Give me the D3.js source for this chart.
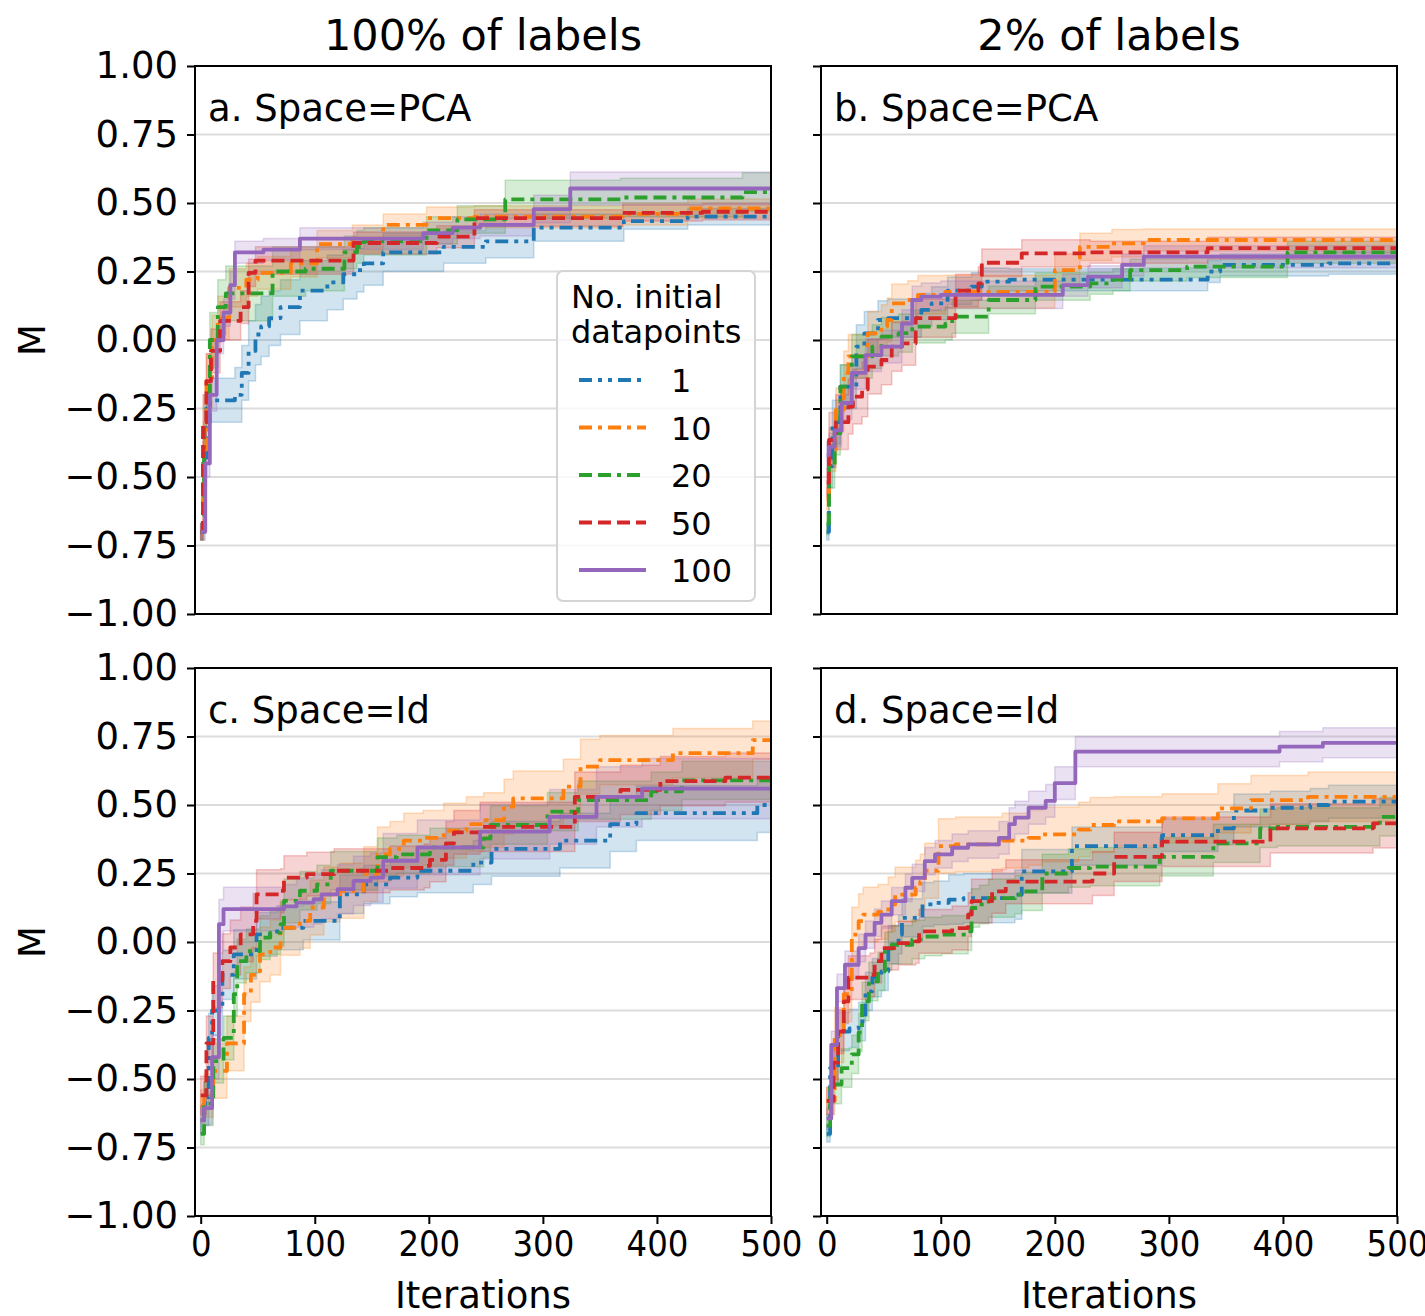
<!DOCTYPE html>
<html>
<head>
<meta charset="utf-8">
<script src="https://cdn.jsdelivr.net/npm/d3@7"></script>
<style>
  html, body { margin: 0; padding: 0; background: #fff; }
  svg { display: block; }
  text { font-family: "DejaVu Sans", sans-serif; fill: #000; }
</style>
</head>
<body>
<svg id="chart" width="1425" height="1316"></svg>
<script>
// ---------------- DATA ----------------
// series labels (No. initial datapoints)
const seriesNames = ["1", "10", "20", "50", "100"];
const seriesColors = ["#1f77b4", "#ff7f0e", "#2ca02c", "#d62728", "#9467bd"];
const columnTitles = ["100% of labels", "2% of labels"];
const panelLabels = ["a. Space=PCA", "b. Space=PCA", "c. Space=Id", "d. Space=Id"];
const yTicks = [-1, -0.75, -0.5, -0.25, 0, 0.25, 0.5, 0.75, 1];
const xTicks = [0, 100, 200, 300, 400, 500];

// each point: [iteration, mean M, half-width of shaded band]
// Panel a: Space=PCA, 100% of labels
const a_n1 = [[0,-0.70,0.03],[2,-0.45,0.08],[5,-0.25,0.08],[8,-0.22,0.08],[30,-0.20,0.10],[36,-0.12,0.10],[42,-0.04,0.11],[48,0.02,0.11],[53,0.05,0.11],[60,0.08,0.10],[70,0.12,0.10],[87,0.18,0.11],[111,0.21,0.10],[125,0.24,0.09],[137,0.255,0.08],[143,0.28,0.08],[160,0.32,0.07],[213,0.34,0.06],[250,0.36,0.06],[292,0.41,0.05],[371,0.434,0.03],[427,0.45,0.03],[500,0.45,0.03]];
const a_n10 = [[0,-0.70,0.03],[2,-0.40,0.10],[5,-0.15,0.10],[10,0.0,0.09],[15,0.08,0.08],[25,0.19,0.07],[40,0.22,0.06],[50,0.245,0.06],[79,0.28,0.05],[102,0.35,0.05],[133,0.37,0.05],[160,0.42,0.04],[198,0.445,0.04],[240,0.45,0.04],[370,0.46,0.04],[427,0.48,0.035],[500,0.48,0.035]];
const a_n20 = [[0,-0.70,0.03],[3,-0.30,0.10],[8,0.0,0.10],[15,0.12,0.10],[22,0.17,0.10],[63,0.25,0.09],[92,0.26,0.08],[126,0.32,0.06],[137,0.34,0.06],[143,0.36,0.05],[198,0.40,0.05],[225,0.44,0.05],[267,0.513,0.07],[368,0.52,0.07],[475,0.54,0.07],[500,0.54,0.07]];
const a_n50 = [[0,-0.70,0.03],[2,-0.30,0.10],[5,-0.15,0.10],[9,-0.04,0.08],[17,0.07,0.07],[35,0.12,0.06],[42,0.245,0.05],[48,0.29,0.05],[134,0.354,0.04],[207,0.377,0.04],[240,0.445,0.03],[370,0.464,0.03],[440,0.468,0.03],[500,0.468,0.03]];
const a_n100 = [[0,-0.70,0.03],[4,-0.45,0.05],[8,-0.20,0.06],[14,0.0,0.05],[20,0.10,0.05],[26,0.20,0.05],[30,0.32,0.04],[55,0.33,0.04],[87,0.37,0.04],[195,0.39,0.04],[221,0.41,0.04],[245,0.42,0.04],[292,0.478,0.05],[324,0.553,0.06],[500,0.553,0.06]];

// Panel b: Space=PCA, 2% of labels
const b_n1 = [[0,-0.70,0.03],[2,-0.46,0.08],[5,-0.30,0.08],[12,-0.17,0.08],[26,-0.024,0.08],[33,0.024,0.08],[45,0.073,0.07],[54,0.08,0.07],[83,0.11,0.06],[92,0.134,0.06],[106,0.18,0.05],[127,0.195,0.05],[136,0.213,0.05],[160,0.22,0.04],[334,0.25,0.04],[345,0.274,0.04],[440,0.28,0.04],[500,0.28,0.04]];
const b_n10 = [[0,-0.58,0.04],[2,-0.40,0.08],[8,-0.255,0.08],[15,-0.12,0.08],[19,-0.06,0.08],[36,0.024,0.08],[48,0.049,0.08],[53,0.073,0.08],[57,0.134,0.07],[71,0.146,0.07],[80,0.165,0.07],[104,0.176,0.06],[200,0.255,0.06],[222,0.34,0.05],[250,0.353,0.05],[278,0.365,0.04],[500,0.365,0.04]];
const b_n20 = [[0,-0.67,0.04],[2,-0.46,0.08],[7,-0.34,0.08],[12,-0.17,0.08],[22,-0.06,0.08],[40,-0.024,0.08],[48,0.012,0.07],[63,0.025,0.07],[75,0.049,0.06],[104,0.06,0.06],[110,0.085,0.06],[142,0.146,0.05],[183,0.195,0.05],[231,0.207,0.04],[251,0.22,0.04],[266,0.255,0.04],[316,0.268,0.04],[404,0.32,0.04],[500,0.32,0.04]];
const b_n50 = [[0,-0.52,0.05],[2,-0.365,0.10],[8,-0.30,0.10],[19,-0.243,0.10],[23,-0.207,0.10],[31,-0.18,0.10],[36,-0.097,0.10],[48,-0.073,0.09],[57,-0.024,0.09],[66,-0.012,0.08],[78,0.08,0.07],[113,0.18,0.06],[133,0.207,0.06],[136,0.282,0.05],[171,0.316,0.05],[231,0.32,0.04],[334,0.335,0.04],[500,0.335,0.04]];
const b_n100 = [[0,-0.42,0.05],[2,-0.39,0.05],[7,-0.33,0.06],[13,-0.23,0.06],[22,-0.12,0.06],[34,-0.055,0.06],[48,-0.024,0.06],[66,0.06,0.05],[75,0.146,0.05],[83,0.158,0.05],[100,0.165,0.05],[207,0.20,0.04],[229,0.231,0.04],[259,0.274,0.04],[278,0.304,0.04],[500,0.304,0.04]];

// Panel c: Space=Id, 100% of labels
const c_n1 = [[0,-0.65,0.05],[3,-0.59,0.08],[7,-0.35,0.09],[10,-0.25,0.09],[19,-0.12,0.09],[29,-0.045,0.09],[49,0.028,0.08],[67,0.052,0.08],[90,0.077,0.07],[122,0.174,0.07],[143,0.21,0.07],[166,0.235,0.07],[190,0.26,0.08],[239,0.29,0.08],[255,0.34,0.10],[315,0.37,0.10],[359,0.43,0.10],[382,0.47,0.10],[488,0.50,0.10],[500,0.50,0.10]];
const c_n10 = [[0,-0.60,0.06],[3,-0.56,0.08],[11,-0.47,0.10],[23,-0.37,0.10],[38,-0.19,0.10],[44,-0.12,0.10],[52,-0.045,0.10],[61,-0.02,0.10],[70,0.052,0.10],[87,0.077,0.10],[96,0.126,0.10],[108,0.174,0.10],[122,0.187,0.10],[143,0.248,0.10],[155,0.32,0.10],[166,0.34,0.10],[178,0.37,0.10],[195,0.38,0.10],[213,0.406,0.10],[233,0.43,0.10],[248,0.445,0.10],[266,0.494,0.10],[274,0.524,0.10],[318,0.567,0.10],[333,0.64,0.10],[350,0.664,0.09],[414,0.689,0.09],[484,0.737,0.07],[500,0.737,0.07]];
const c_n20 = [[0,-0.70,0.04],[3,-0.59,0.08],[11,-0.435,0.08],[20,-0.35,0.08],[29,-0.19,0.08],[32,-0.07,0.08],[40,-0.033,0.08],[52,0.016,0.08],[61,0.034,0.08],[70,0.065,0.08],[73,0.15,0.08],[87,0.187,0.07],[102,0.21,0.07],[114,0.26,0.07],[155,0.31,0.07],[172,0.32,0.07],[201,0.345,0.07],[248,0.378,0.07],[254,0.427,0.07],[304,0.476,0.07],[331,0.518,0.07],[395,0.55,0.07],[422,0.59,0.07],[500,0.595,0.07]];
const c_n50 = [[0,-0.56,0.07],[5,-0.37,0.10],[11,-0.14,0.10],[19,-0.07,0.10],[26,-0.02,0.10],[35,0.028,0.10],[46,0.077,0.10],[49,0.174,0.09],[70,0.187,0.08],[73,0.235,0.08],[93,0.248,0.08],[117,0.26,0.08],[166,0.27,0.08],[196,0.278,0.08],[201,0.30,0.08],[215,0.36,0.08],[222,0.40,0.08],[245,0.42,0.09],[328,0.53,0.09],[368,0.555,0.09],[403,0.587,0.09],[460,0.60,0.09],[500,0.60,0.09]];
const c_n100 = [[0,-0.65,0.05],[3,-0.606,0.06],[10,-0.42,0.08],[16,0.065,0.09],[20,0.12,0.08],[73,0.13,0.08],[84,0.144,0.09],[99,0.156,0.09],[106,0.174,0.09],[120,0.193,0.09],[134,0.223,0.09],[149,0.235,0.09],[160,0.296,0.10],[190,0.345,0.10],[245,0.403,0.10],[306,0.457,0.10],[347,0.53,0.11],[387,0.56,0.11],[500,0.56,0.11]];

// Panel d: Space=Id, 2% of labels
const d_n1 = [[0,-0.70,0.03],[3,-0.46,0.06],[10,-0.327,0.07],[20,-0.315,0.07],[28,-0.29,0.07],[34,-0.18,0.07],[40,-0.13,0.07],[48,-0.107,0.07],[54,-0.01,0.07],[63,0.027,0.07],[66,0.088,0.07],[84,0.137,0.08],[94,0.143,0.08],[107,0.155,0.09],[120,0.16,0.09],[165,0.173,0.09],[171,0.258,0.08],[215,0.35,0.07],[294,0.39,0.06],[343,0.415,0.06],[357,0.48,0.06],[389,0.49,0.06],[424,0.50,0.06],[440,0.512,0.06],[500,0.512,0.06]];
const d_n10 = [[0,-0.58,0.05],[7,-0.34,0.10],[15,-0.19,0.10],[22,0.027,0.10],[28,0.076,0.10],[32,0.10,0.10],[45,0.11,0.10],[54,0.137,0.10],[60,0.173,0.10],[78,0.198,0.10],[82,0.22,0.10],[86,0.26,0.10],[98,0.35,0.10],[113,0.356,0.10],[154,0.37,0.10],[177,0.38,0.10],[189,0.393,0.10],[221,0.41,0.10],[231,0.427,0.10],[252,0.44,0.09],[294,0.451,0.09],[343,0.488,0.09],[372,0.518,0.09],[422,0.53,0.09],[500,0.53,0.09]];
const d_n20 = [[0,-0.67,0.04],[3,-0.52,0.07],[13,-0.46,0.07],[22,-0.41,0.07],[28,-0.33,0.07],[31,-0.217,0.07],[37,-0.144,0.07],[45,-0.107,0.07],[51,-0.034,0.07],[57,-0.01,0.07],[75,0.009,0.07],[86,0.02,0.07],[101,0.027,0.07],[124,0.039,0.07],[127,0.124,0.07],[134,0.137,0.07],[142,0.16,0.07],[165,0.173,0.07],[171,0.185,0.07],[189,0.25,0.07],[212,0.27,0.07],[231,0.275,0.07],[292,0.311,0.07],[339,0.36,0.07],[380,0.415,0.07],[395,0.42,0.07],[485,0.457,0.07],[500,0.457,0.07]];
const d_n50 = [[0,-0.58,0.05],[6,-0.44,0.08],[10,-0.327,0.08],[15,-0.217,0.08],[19,-0.13,0.08],[38,-0.12,0.08],[42,-0.07,0.08],[48,-0.022,0.08],[63,-0.004,0.08],[78,0.002,0.08],[81,0.039,0.08],[110,0.051,0.08],[124,0.10,0.08],[127,0.149,0.08],[145,0.185,0.08],[157,0.22,0.08],[233,0.25,0.08],[252,0.311,0.09],[294,0.366,0.09],[389,0.415,0.09],[479,0.433,0.09],[500,0.433,0.09]];
const d_n100 = [[0,-0.644,0.04],[4,-0.376,0.05],[9,-0.168,0.05],[16,-0.083,0.05],[28,-0.022,0.05],[34,0.027,0.05],[42,0.07,0.05],[48,0.10,0.05],[57,0.149,0.05],[69,0.198,0.05],[75,0.234,0.05],[86,0.295,0.05],[95,0.32,0.05],[110,0.344,0.05],[124,0.356,0.05],[151,0.38,0.06],[160,0.43,0.06],[165,0.454,0.06],[177,0.49,0.06],[192,0.515,0.06],[200,0.58,0.06],[218,0.695,0.055],[397,0.713,0.055],[435,0.727,0.055],[500,0.727,0.055]];

const panelSeries = [
  [a_n1, a_n10, a_n20, a_n50, a_n100],
  [b_n1, b_n10, b_n20, b_n50, b_n100],
  [c_n1, c_n10, c_n20, c_n50, c_n100],
  [d_n1, d_n10, d_n20, d_n50, d_n100]
];

// ---------------- DRAW ----------------
const svg = d3.select("#chart");
const FONT = 37;
const dashes = ["13,6,4,6,4,6", "13,6,4,6", "13,6,13,6,4,6", "13,6", null];
const LW = 3.8;

const cols = [[195, 771], [821, 1397]];
const rows = [[66, 614], [668, 1216]];

panelSeries.forEach((series, pi) => {
  const col = pi % 2, row = Math.floor(pi / 2);
  const x = d3.scaleLinear().domain([-5, 500]).range(cols[col]);
  const y = d3.scaleLinear().domain([-1, 1]).range([rows[row][1], rows[row][0]]);
  const g = svg.append("g");
  const clipId = "clip" + pi;
  svg.append("clipPath").attr("id", clipId).append("rect")
    .attr("x", cols[col][0]).attr("y", rows[row][0])
    .attr("width", cols[col][1] - cols[col][0]).attr("height", rows[row][1] - rows[row][0]);

  // grid
  g.append("g").selectAll("line").data(yTicks).join("line")
    .attr("x1", cols[col][0]).attr("x2", cols[col][1])
    .attr("y1", d => y(d)).attr("y2", d => y(d))
    .attr("stroke", "#dcdcdc").attr("stroke-width", 2);

  const plot = g.append("g").attr("clip-path", `url(#${clipId})`);
  const area = d3.area().curve(d3.curveStepAfter)
    .x(d => x(d[0])).y0(d => y(d[1] - d[2])).y1(d => y(d[1] + d[2]));
  const line = d3.line().curve(d3.curveStepAfter)
    .x(d => x(d[0])).y(d => y(d[1]));

  series.forEach((data, si) => {
    const c = seriesColors[si];
    plot.append("path").datum(data).attr("d", area)
      .attr("fill", c).attr("fill-opacity", 0.2)
      .attr("stroke", c).attr("stroke-opacity", 0.25).attr("stroke-width", 1.5);
  });
  series.forEach((data, si) => {
    const c = seriesColors[si];
    const p = plot.append("path").datum(data).attr("d", line)
      .attr("fill", "none").attr("stroke", c).attr("stroke-width", LW)
      .attr("stroke-linejoin", "round");
    if (dashes[si]) p.attr("stroke-dasharray", dashes[si]);
  });

  // y axis
  const yAx = d3.axisLeft(y).tickValues(yTicks).tickSize(8).tickSizeOuter(0).tickPadding(9)
    .tickFormat(col === 0 ? d3.format(".2f") : () => "");
  const yg = g.append("g").attr("transform", `translate(${cols[col][0]},0)`).call(yAx);
  yg.select(".domain").remove();
  yg.selectAll(".tick line").attr("stroke", "#000").attr("stroke-width", 2);
  yg.selectAll(".tick text").attr("font-size", FONT).attr("font-family", "DejaVu Sans").attr("fill", "#000");

  // x axis (bottom row only)
  if (row === 1) {
    const xAx = d3.axisBottom(x).tickValues(xTicks).tickSize(8).tickSizeOuter(0).tickPadding(6)
      .tickFormat(d3.format("d"));
    const xg = g.append("g").attr("transform", `translate(0,${rows[row][1]})`).call(xAx);
    xg.select(".domain").remove();
    xg.selectAll(".tick line").attr("stroke", "#000").attr("stroke-width", 2);
    xg.selectAll(".tick text").attr("font-size", 36).attr("font-family", "DejaVu Sans").attr("fill", "#000")
      .attr("transform", "scale(0.9,1)");
    g.append("text").attr("x", (cols[col][0] + cols[col][1]) / 2).attr("y", 1308)
      .attr("text-anchor", "middle").attr("font-size", FONT).text("Iterations");
  }

  // spines
  g.append("rect").attr("x", cols[col][0]).attr("y", rows[row][0])
    .attr("width", cols[col][1] - cols[col][0]).attr("height", rows[row][1] - rows[row][0])
    .attr("fill", "none").attr("stroke", "#000").attr("stroke-width", 2);

  // panel label
  g.append("text").attr("x", cols[col][0] + 13).attr("y", rows[row][0] + 55)
    .attr("font-size", FONT).text(panelLabels[pi]);

  // y label
  if (col === 0) {
    const cy = (rows[row][0] + rows[row][1]) / 2;
    g.append("text").attr("transform", `translate(45,${cy}) rotate(-90)`)
      .attr("text-anchor", "middle").attr("font-size", FONT).text("M");
  }
  // column titles
  if (row === 0) {
    g.append("text").attr("x", (cols[col][0] + cols[col][1]) / 2).attr("y", 50)
      .attr("text-anchor", "middle").attr("font-size", 43).text(columnTitles[col]);
  }
});

// legend (in panel a)
const lg = svg.append("g");
lg.append("rect").attr("x", 557).attr("y", 271).attr("width", 198).attr("height", 330)
  .attr("rx", 6).attr("fill", "#fff").attr("fill-opacity", 0.8)
  .attr("stroke", "#d4d4d4").attr("stroke-width", 2);
lg.append("text").attr("x", 571).attr("y", 308).attr("font-size", 32).text("No. initial");
lg.append("text").attr("x", 571).attr("y", 343).attr("font-size", 32).text("datapoints");
seriesNames.forEach((n, i) => {
  const ly = 380 + i * 47.5;
  const l = lg.append("line").attr("x1", 579).attr("x2", 646).attr("y1", ly).attr("y2", ly)
    .attr("stroke", seriesColors[i]).attr("stroke-width", LW);
  if (dashes[i]) l.attr("stroke-dasharray", dashes[i]);
  lg.append("text").attr("x", 671).attr("y", ly + 12).attr("font-size", 32).text(n);
});
</script>
</body>
</html>
